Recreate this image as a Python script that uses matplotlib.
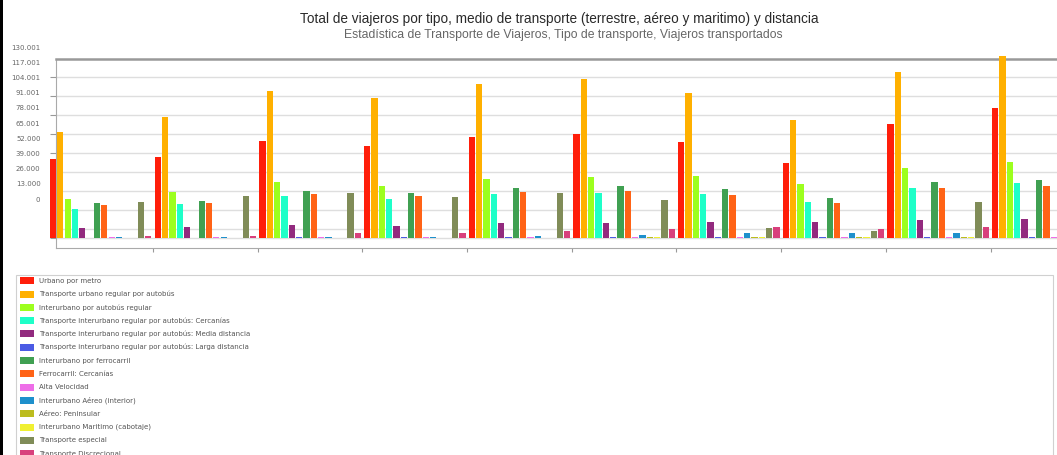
import matplotlib
matplotlib.use('Agg')
import matplotlib.pyplot as plt
import matplotlib.patches as patches
import numpy as np

W, H = 1057, 455


def fx(px):
    return px / W


def fy(py):
    return 1 - py / H


title = 'Total de viajeros por tipo, medio de transporte (terrestre, aéreo y maritimo) y distancia'
subtitle = 'Estadística de Transporte de Viajeros, Tipo de transporte, Viajeros transportados'

periods = list(range(10))
y_tick_labels = ['0', '13.000', '26.000', '39.000', '52.000', '65.001',
                 '78.001', '91.001', '104.001', '117.001', '130.001']

series_names = [
    'Urbano por metro',
    'Transporte urbano regular por autobús',
    'Interurbano por autobús regular',
    'Transporte interurbano regular por autobús: Cercanías',
    'Transporte interurbano regular por autobús: Media distancia',
    'Transporte interurbano regular por autobús: Larga distancia',
    'Interurbano por ferrocarril',
    'Ferrocarril: Cercanías',
    'Alta Velocidad',
    'Interurbano Aéreo (interior)',
    'Aéreo: Peninsular',
    'Interurbano Maritimo (cabotaje)',
    'Transporte especial',
    'Transporte Discrecional',
]
colors = ['#ff1e0a', '#ffb000', '#9cff1e', '#1effc8', '#922a7e', '#4b5be4',
          '#40a052', '#ff6316', '#ee6ee8', '#1e90cc', '#bcbc1e', '#f0f032',
          '#808c58', '#d8407c']

metro = [53800, 55600, 66300, 62900, 68900, 71100, 65700, 51500, 77800, 88700]
bus_urbano = [72500, 83000, 100500, 95500, 105100, 108800, 99400, 80700, 113800, 124500]
bus_interurbano = [26900, 31500, 38100, 35800, 40100, 41900, 42400, 37100, 47700, 52000]
bus_cercanias = [19600, 23500, 28500, 26900, 29900, 30600, 30100, 24600, 34000, 37400]
bus_media = [6600, 7300, 8900, 8200, 10000, 10500, 11100, 11100, 12500, 13200]
bus_larga = [300, 300, 400, 400, 400, 500, 500, 500, 500, 500]
ferrocarril = [23700, 25100, 32400, 30800, 34000, 35400, 33700, 27600, 38500, 39700]
fc_cercanias = [22400, 23700, 29900, 28700, 31300, 31900, 29600, 23700, 34400, 35600]
alta_velocidad = [400, 400, 500, 500, 600, 600, 700, 600, 800, 800]
aereo_interior = [700, 600, 700, 900, 1200, 2100, 3200, 3600, 3200, 3000]
aereo_peninsular = [200, 200, 300, 300, 300, 400, 600, 700, 600, 600]
maritimo = [200, 200, 300, 300, 300, 400, 600, 700, 600, 600]
especial = [24400, 28700, 30600, 27800, 30800, 25800, 6600, 4800, 24400, 27000]
discrecional = [1400, 1600, 3200, 3200, 4800, 6200, 7300, 6200, 7700, 8000]

series = [metro, bus_urbano, bus_interurbano, bus_cercanias, bus_media, bus_larga,
          ferrocarril, fc_cercanias, alta_velocidad, aereo_interior, aereo_peninsular,
          maritimo, especial, discrecional]

fig = plt.figure(figsize=(W / 100, H / 100), dpi=100)
fig.patch.set_facecolor('white')

# plot frame runs from px 56 to past the right edge (cropped screenshot)
ax_left, ax_right = 56, 1110
ax_top, ax_bottom = 58.7, 248
ax = fig.add_axes([fx(ax_left), fy(ax_bottom), (ax_right - ax_left) / W,
                   (ax_bottom - ax_top) / H])

px_per_group = 104.7
center0 = 100.65
val_per_px = 684

x = np.arange(len(periods))
step, width = 0.07, 0.06
for j, (vals, c) in enumerate(zip(series, colors)):
    ax.bar(x + (j - 6.5) * step, vals, width=width, color=c, linewidth=0,
           clip_on=False, zorder=3)

grid_vals = [0] + list(6160 + 13000 * np.arange(9))
ax.set_yticks(grid_vals)
ax.set_yticklabels([])
ax.grid(axis='y', color='#dedede', linewidth=1, zorder=0)
ax.tick_params(axis='y', length=4, color='#999999', width=0.8)
ax.set_xticks(x[1:] - 0.5)
ax.set_xticklabels([])
ax.tick_params(axis='x', length=3, color='#999999', width=0.8)
ax.set_xlim((ax_left - center0) / px_per_group, (ax_right - center0) / px_per_group)
ax.set_ylim((238 - ax_bottom) * val_per_px, (238 - ax_top) * val_per_px)
ax.spines['top'].set_color('#999999')
ax.spines['top'].set_linewidth(1.8)
ax.spines['left'].set_color('#aaaaaa')
ax.spines['bottom'].set_color('#aaaaaa')
ax.spines['right'].set_visible(False)

# y labels sit on their own scale (offset from the grid, as in the source)
lab = fig.add_axes([fx(40.5), fy(199), 0.0005, (199 - 47.3) / H])
lab.set_ylim(0, 10)
lab.set_yticks(range(11))
lab.set_yticklabels(y_tick_labels)
lab.set_xticks([])
lab.tick_params(axis='y', length=0, pad=0, labelsize=5, labelcolor='#666666')
for s in lab.spines.values():
    s.set_visible(False)
lab.patch.set_visible(False)

fig.text(fx(559), fy(19), title, ha='center', va='center', fontsize=9.8,
         family='Liberation Sans', color='#2a2a2a')
fig.text(fx(563), fy(35), subtitle, ha='center', va='center', fontsize=8.8,
         family='Liberation Sans', color='#666666')

# legend box
fig.add_artist(patches.Rectangle((fx(16), fy(470)), fx(1053) - fx(16), fy(275) - fy(470),
                                 transform=fig.transFigure, facecolor='none',
                                 edgecolor='#d0d0d0', linewidth=0.8))
for k, (name, c) in enumerate(zip(series_names, colors)):
    yc = 280.7 + k * 13.3
    fig.add_artist(patches.Rectangle((fx(20), fy(yc + 3.5)), fx(14), 7 / H,
                                     transform=fig.transFigure, facecolor=c,
                                     edgecolor='none'))
    fig.text(fx(39), fy(yc), name, ha='left', va='center', fontsize=5,
             color='#555555')

# dark border of the screenshot on the left
fig.add_artist(patches.Rectangle((0, 0), fx(2.5), 1, transform=fig.transFigure,
                                 facecolor='black', edgecolor='none'))

fig.savefig('out.png', dpi=100)
